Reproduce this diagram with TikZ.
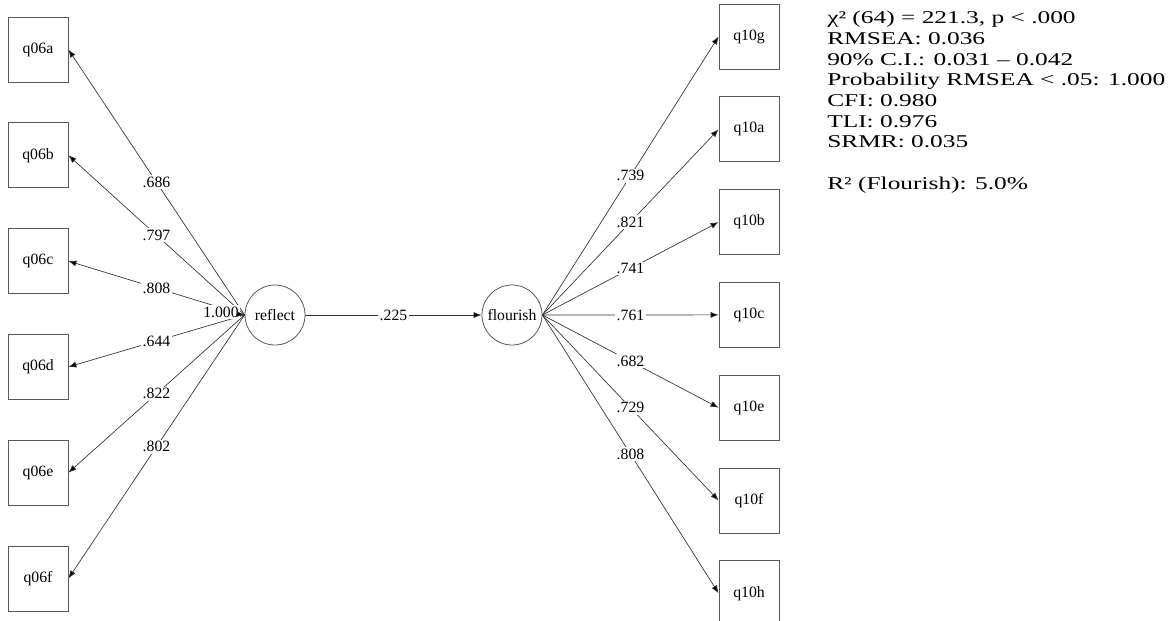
\documentclass[tikz,border=0pt]{standalone}
\usepackage{fontspec}
\setmainfont{Liberation Serif}
\newfontfamily\statfont[FakeStretch=1.41]{Liberation Serif}
\usepackage{xcolor}
\usetikzlibrary{arrows.meta,positioning}
\definecolor{edgegray}{gray}{0.35}
\definecolor{linegray}{gray}{0.2}

\begin{document}
\begin{tikzpicture}[
        x=0.75pt, y=-0.75pt,
        font=\fontsize{11.8pt}{13pt}\selectfont,
        obs/.style={rectangle, draw=edgegray, line width=0.6pt,
                    minimum width=45pt, minimum height=48.75pt},
        lat/.style={circle, draw=edgegray, line width=0.6pt,
                    minimum size=45pt, inner sep=0pt},
        lbl/.style={fill=white, inner sep=1.2pt},
        path/.style={-{Latex[length=6pt,width=4.5pt,fill=black]}, draw=linegray, line width=0.5pt}
    ]
        \useasboundingbox (0,0) rectangle (1172,621);

        % latent factors
        \node[lat] (reflect) at (275,315) {reflect};
        \node[lat] (flourish) at (512,315) {flourish};

        % reflect indicators
        \node[obs] (q06a) at (38,49.5) {q06a};
        \node[obs, below=30pt of q06a] (q06b) {q06b};
        \node[obs, below=30pt of q06b] (q06c) {q06c};
        \node[obs, below=30pt of q06c] (q06d) {q06d};
        \node[obs, below=30pt of q06d] (q06e) {q06e};
        \node[obs, below=30pt of q06e] (q06f) {q06f};

        % flourish indicators
        \node[obs] (q10g) at (749,36.5) {q10g};
        \node[obs, below=20.25pt of q10g] (q10a) {q10a};
        \node[obs, below=20.25pt of q10a] (q10b) {q10b};
        \node[obs, below=20.25pt of q10b] (q10c) {q10c};
        \node[obs, below=20.25pt of q10c] (q10e) {q10e};
        \node[obs, below=20.25pt of q10e] (q10f) {q10f};
        \node[obs, below=20.25pt of q10f] (q10h) {q10h};

        % fit statistics
        \node[anchor=north west, align=left, inner sep=0pt,
              font=\statfont\fontsize{13.5pt}{15.5pt}\selectfont] (fit) at (827,11)
            {χ² (64) = 221.3, p < .000\\
             RMSEA: 0.036\\
             90\% C.I.: 0.031 – 0.042\\
             Probability RMSEA < .05: 1.000\\
             CFI: 0.980\\
             TLI: 0.976\\
             SRMR: 0.035\\[15.5pt]
             R² (Flourish): 5.0\%};

        \draw[path] (reflect.west) -- node[lbl]{.686} (q06a.east);
        \draw[path] (reflect.west) -- node[lbl]{.797} (q06b.east);
        \draw[path] (reflect.west) -- node[lbl]{.808} (q06c.east);
        \draw[path] (reflect.west) -- node[lbl]{.644} (q06d.east);
        \draw[path] (reflect.west) -- node[lbl]{.822} (q06e.east);
        \draw[path] (reflect.west) -- node[lbl]{.802} (q06f.east);

        \draw[path] (flourish.east) -- node[lbl]{.739} (q10g.west);
        \draw[path] (flourish.east) -- node[lbl]{.821} (q10a.west);
        \draw[path] (flourish.east) -- node[lbl]{.741} (q10b.west);
        \draw[path] (flourish.east) -- node[lbl]{.761} (q10c.west);
        \draw[path] (flourish.east) -- node[lbl]{.682} (q10e.west);
        \draw[path] (flourish.east) -- node[lbl]{.729} (q10f.west);
        \draw[path] (flourish.east) -- node[lbl]{.808} (q10h.west);

        % factor variance, on top of the loadings
        \node[fill=white, inner sep=1pt] (rvar) at (221,312) {1.000};
        \draw[path] (rvar) -- (reflect.west);
        \draw[path] (reflect) -- node[lbl]{.225} (flourish);
    \end{tikzpicture}
\end{document}
